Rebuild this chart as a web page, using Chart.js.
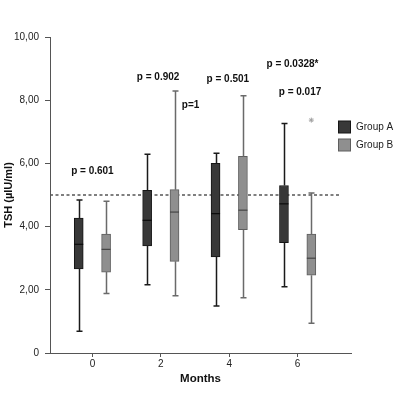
<!DOCTYPE html>
<html>
<head>
<meta charset="utf-8">
<script src="https://cdn.jsdelivr.net/npm/chart.js@4/dist/chart.umd.min.js"></script>
<style>
  html, body { margin:0; padding:0; background:#fff; }
  canvas { display:block; }
</style>
</head>
<body>
<canvas id="c" width="400" height="393"></canvas>
<script>
// Data
const months = [0, 2, 4, 6];
const groupNames = ['Group A', 'Group B'];

const aMin = [0.69, 2.16, 1.49, 2.10];
const aQ1  = [2.66, 3.39, 3.04, 3.49];
const aMed = [3.44, 4.20, 4.41, 4.72];
const aQ3  = [4.27, 5.15, 6.00, 5.30];
const aMax = [4.84, 6.29, 6.32, 7.26];

const bMin = [1.88, 1.81, 1.75, 0.94];
const bQ1  = [2.56, 2.90, 3.90, 2.46];
const bMed = [3.28, 4.46, 4.52, 3.00];
const bQ3  = [3.76, 5.17, 6.22, 3.76];
const bMax = [4.80, 8.29, 8.14, 5.06];

const outMonth = [6];
const outValue = [7.37];

const refValue = 5;
const yTicks = [0, 2, 4, 6, 8, 10];

const pTexts  = ['p = 0.601', 'p = 0.902', 'p=1', 'p = 0.501', 'p = 0.0328*', 'p = 0.017'];
const pMonth  = [0.0, 1.92, 2.87, 3.96, 5.85, 6.07];
const pValue  = [5.74, 8.73, 7.85, 8.66, 9.15, 8.25];

// Style
const FONT = "'Liberation Sans', Arial, sans-serif";
const SHIFT = 0.4;       // group offset from the month tick (in months)
const X_MIN = -1.24, X_MAX = 7.56, REF_END = 7.24;
const COL = {
  aFill:'#383838', aLine:'#151515', aWhisk:'#1a1a1a', aMed:'#0a0a0a',
  bFill:'#8f8f8f', bLine:'#5e5e5e', bWhisk:'#6a6a6a', bMed:'#444444',
  axis:'#555555'
};

const stats = [
  { lo:aMin, med:aMed, hi:aMax, q1:aQ1, q3:aQ3, whisk:COL.aWhisk, medCol:COL.aMed },
  { lo:bMin, med:bMed, hi:bMax, q1:bQ1, q3:bQ3, whisk:COL.bWhisk, medCol:COL.bMed }
];

// whiskers, caps, medians, p values, legend
const boxExtras = {
  id:'boxExtras',
  afterDatasetsDraw(chart) {
    const ctx = chart.ctx, y = chart.scales.y, x = chart.scales.x;
    stats.forEach((s, di) => {
      const meta = chart.getDatasetMeta(di);
      meta.data.forEach((bar, i) => {
        const cx = Math.round(bar.x) + 0.5;
        const half = bar.width / 2;
        ctx.save();
        ctx.strokeStyle = s.whisk;
        ctx.lineWidth = 1.5;
        ctx.beginPath();
        ctx.moveTo(cx, y.getPixelForValue(s.hi[i])); ctx.lineTo(cx, y.getPixelForValue(s.q3[i]));
        ctx.moveTo(cx, y.getPixelForValue(s.q1[i])); ctx.lineTo(cx, y.getPixelForValue(s.lo[i]));
        ctx.stroke();
        ctx.beginPath();
        ctx.moveTo(cx - 3, y.getPixelForValue(s.hi[i])); ctx.lineTo(cx + 3, y.getPixelForValue(s.hi[i]));
        ctx.moveTo(cx - 3, y.getPixelForValue(s.lo[i])); ctx.lineTo(cx + 3, y.getPixelForValue(s.lo[i]));
        ctx.stroke();
        ctx.strokeStyle = s.medCol;
        ctx.lineWidth = 1.2;
        ctx.beginPath();
        ctx.moveTo(bar.x - half, y.getPixelForValue(s.med[i])); ctx.lineTo(bar.x + half, y.getPixelForValue(s.med[i]));
        ctx.stroke();
        ctx.restore();
      });
    });
    ctx.save();
    ctx.fillStyle = '#111';
    ctx.font = 'bold 10px ' + FONT;
    ctx.textAlign = 'center';
    ctx.textBaseline = 'middle';
    pTexts.forEach((t, i) => ctx.fillText(t, x.getPixelForValue(pMonth[i]), y.getPixelForValue(pValue[i])));
    // legend
    ctx.font = '10px ' + FONT;
    ctx.textAlign = 'left';
    [[COL.aFill, COL.aLine], [COL.bFill, COL.bLine]].forEach((c, i) => {
      const ly = 127 + i * 18;
      ctx.fillStyle = c[0];
      ctx.fillRect(338.5, ly - 6, 12, 12);
      ctx.strokeStyle = c[1];
      ctx.lineWidth = 1;
      ctx.strokeRect(338.5, ly - 6, 12, 12);
      ctx.fillStyle = '#222';
      ctx.fillText(groupNames[i], 356, ly);
    });
    ctx.restore();
  }
};

new Chart(document.getElementById('c'), {
  type:'bar',
  data:{ datasets:[
    { label:groupNames[0], data: months.map((m, i) => ({ x: m - SHIFT, y: [aQ1[i], aQ3[i]] })),
      backgroundColor:COL.aFill, borderColor:COL.aLine, borderWidth:1, borderSkipped:false,
      barThickness:9, grouped:false, order:1 },
    { label:groupNames[1], data: months.map((m, i) => ({ x: m + SHIFT, y: [bQ1[i], bQ3[i]] })),
      backgroundColor:COL.bFill, borderColor:COL.bLine, borderWidth:1, borderSkipped:false,
      barThickness:9, grouped:false, order:1 },
    { type:'line', label:'ref', data:[{ x:X_MIN, y:refValue }, { x:REF_END, y:refValue }],
      borderColor:'#555', borderWidth:1.3, borderDash:[3,2.5], pointRadius:0, order:3 },
    { type:'scatter', label:'outlier', data: outMonth.map((m, i) => ({ x: m + SHIFT, y: outValue[i] })),
      pointStyle:'star', radius:2.5, borderColor:'#a0a0a0', borderWidth:1, order:0 }
  ]},
  plugins:[boxExtras],
  options:{
    responsive:false, animation:false,
    layout:{ padding:{ top:37, right:49, left:0, bottom:0 } },
    plugins:{ legend:{ display:false }, tooltip:{ enabled:false } },
    scales:{
      x:{ type:'linear', min:X_MIN, max:X_MAX, offset:false,
          afterBuildTicks:s => { s.ticks = months.map(v => ({ value:v })); },
          afterFit:s => { s.height = 40; },
          grid:{ offset:false, drawOnChartArea:false, drawTicks:true, tickLength:4, color:COL.axis },
          border:{ color:COL.axis, width:1 },
          ticks:{ padding:1, color:'#222', font:{ family:FONT, size:10 } },
          title:{ display:true, text:'Months', color:'#111', font:{ family:FONT, size:11.5, weight:'bold' }, padding:{ top:0, bottom:7 } } },
      y:{ min:0, max:10,
          afterBuildTicks:s => { s.ticks = yTicks.map(v => ({ value:v })); },
          afterFit:s => { s.width = 50; },
          grid:{ drawOnChartArea:false, drawTicks:true, tickLength:5, color:COL.axis },
          border:{ color:COL.axis, width:1 },
          ticks:{ padding:6, color:'#222', font:{ family:FONT, size:10 },
                  callback:v => v === 0 ? '0' : v.toFixed(2).replace('.', ',') },
          title:{ display:true, text:'TSH (µIU/ml)', color:'#111', font:{ family:FONT, size:11, weight:'bold' }, padding:{ top:2, bottom:0 } } }
    }
  }
});
</script>
</body>
</html>
